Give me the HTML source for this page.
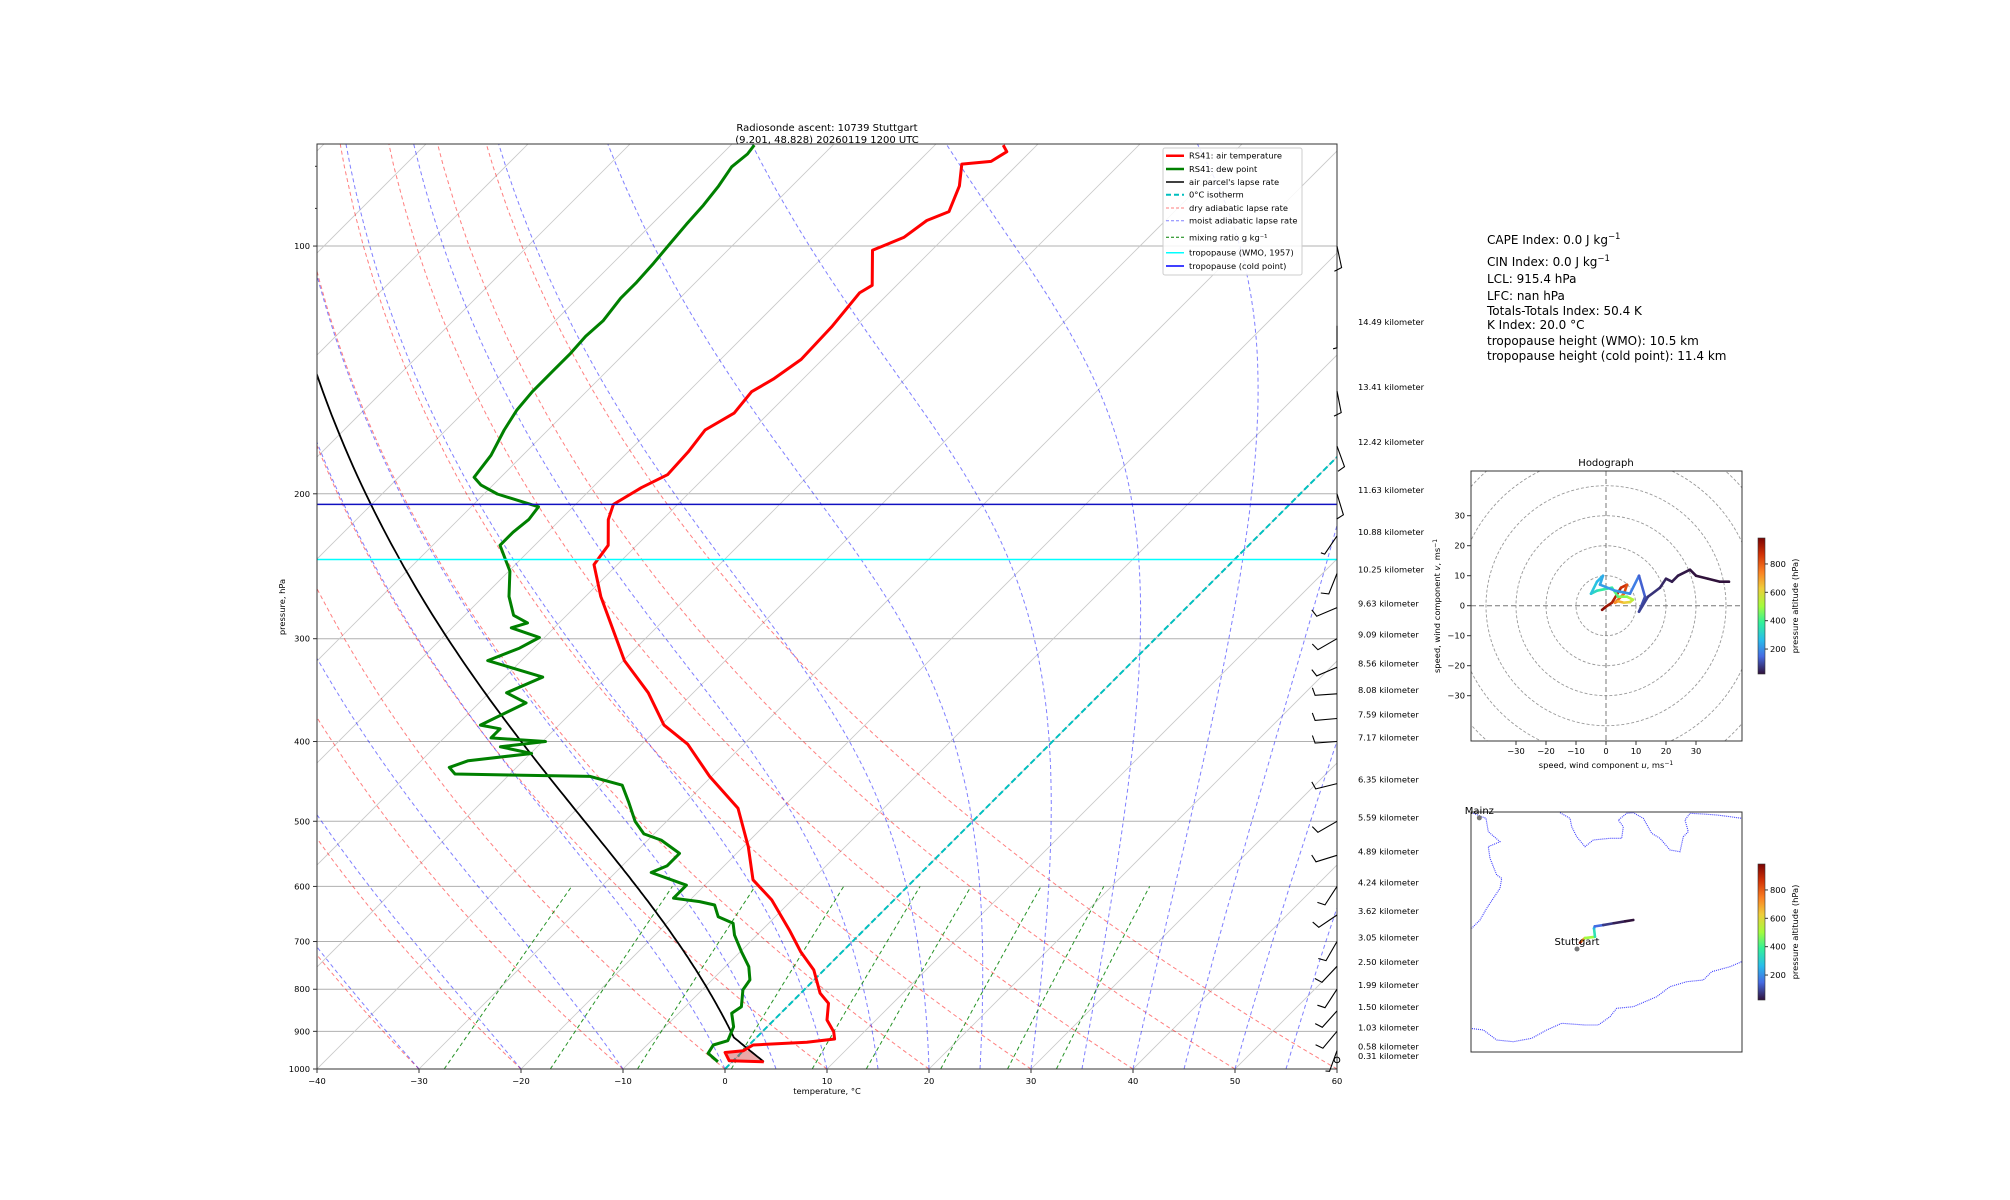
<!DOCTYPE html>
<html><head><meta charset="utf-8"><style>
html,body{margin:0;padding:0;background:#fff;}
svg{display:block;font-family:"DejaVu Sans","Liberation Sans",sans-serif;}
</style></head><body>
<svg id="fig" width="2010" height="1200" viewBox="0 0 2010 1200" xmlns="http://www.w3.org/2000/svg">
<defs>
<clipPath id="skewclip"><rect x="317" y="144" width="1020" height="925"/></clipPath>
<clipPath id="hodoclip"><rect x="1471" y="471" width="271" height="270"/></clipPath>
<clipPath id="mapclip"><rect x="1471" y="812" width="271" height="240"/></clipPath>
<linearGradient id="turbo" x1="0" y1="1" x2="0" y2="0">
<stop offset="0" stop-color="#30123b"/><stop offset="0.13" stop-color="#466be3"/><stop offset="0.25" stop-color="#28bceb"/><stop offset="0.38" stop-color="#32f198"/><stop offset="0.5" stop-color="#a4fc3c"/><stop offset="0.63" stop-color="#efcd3a"/><stop offset="0.75" stop-color="#fb8022"/><stop offset="0.88" stop-color="#d13105"/><stop offset="1" stop-color="#7a0403"/>
</linearGradient>
</defs>
<g id="skew">
<text x="827" y="131" font-size="10" text-anchor="middle">Radiosonde ascent: 10739 Stuttgart</text>
<text x="827" y="144" dy="-1" font-size="10" text-anchor="middle">(9.201, 48.828) 20260119 1200 UTC</text>
<g id="skewlines" clip-path="url(#skewclip)"></g>
<rect x="317" y="144" width="1020" height="925" fill="none" stroke="#333" stroke-width="1"/>
<g id="skewaxes"></g>
<text x="827" y="1094" font-size="8.33" text-anchor="middle">temperature, °C</text>
<text transform="translate(285,607) rotate(-90)" font-size="8.33" text-anchor="middle">pressure, hPa</text>
<g id="legend"></g>
<g id="barbs"></g>
</g>
<g id="stats" font-size="12">
<text x="1487" y="244">CAPE Index: 0.0 J kg<tspan dy="-5" font-size="8.5">−1</tspan></text>
<text x="1487" y="266">CIN Index: 0.0 J kg<tspan dy="-5" font-size="8.5">−1</tspan></text>
<text x="1487" y="283">LCL: 915.4 hPa</text>
<text x="1487" y="300">LFC: nan hPa</text>
<text x="1487" y="315">Totals-Totals Index: 50.4 K</text>
<text x="1487" y="329">K Index: 20.0 °C</text>
<text x="1487" y="345">tropopause height (WMO): 10.5 km</text>
<text x="1487" y="360">tropopause height (cold point): 11.4 km</text>
</g>
<g id="hodo">
<text x="1606" y="466" font-size="10" text-anchor="middle">Hodograph</text>
<g id="hodolines" clip-path="url(#hodoclip)"></g>
<rect x="1471" y="471" width="271" height="270" fill="none" stroke="#333"/>
<g id="hodoaxes" font-size="8.33"></g>
<text x="1606" y="768" font-size="8.33" text-anchor="middle">speed, wind component <tspan font-style="italic">u</tspan>, ms<tspan dy="-3" font-size="6">−1</tspan></text>
<text transform="translate(1440,606) rotate(-90)" font-size="8.33" text-anchor="middle">speed, wind component <tspan font-style="italic">v</tspan>, ms<tspan dy="-3" font-size="6">−1</tspan></text>
<rect x="1758" y="538" width="7" height="136" fill="url(#turbo)" stroke="#333" stroke-width="0.6"/>
<g id="cb1"></g>
</g>
<g id="map">
<g id="maplines" clip-path="url(#mapclip)"></g>
<rect x="1471" y="812" width="271" height="240" fill="none" stroke="#333"/>
<g id="maplabels"></g>
<rect x="1758" y="864" width="7" height="136" fill="url(#turbo)" stroke="#333" stroke-width="0.6"/>
<g id="cb2"></g>
</g>
</svg>
<script>
// ---------- data ----------
const tempP = [980,977,955,950,935,928,919.5,901,872,832,809,758,720,678,623,589,537,482,441,403,382,349,319,266.6,243.8,231,215,206,196.6,189.6,177.9,167.3,159.6,150.3,145.1,137.3,125.4,114,111.6,101.2,97.6,93.1,90.8,84.5,79.5,78.9,76.8,75.4];
const tempT = [3.1,-0.4,-1.6,0.0,0.4,5.4,7.8,7.0,5.2,3.7,1.9,-1.0,-4.1,-7.3,-12,-15.8,-19.5,-24.3,-30.2,-35.5,-39.7,-44.4,-49.9,-58.5,-62.3,-62.8,-65.3,-66.3,-65.2,-63.9,-64.1,-64.6,-63.4,-63.8,-62.9,-62.1,-62.3,-62.9,-62.4,-65.8,-64,-63.4,-62.1,-63.6,-65.5,-62.9,-62.3,-63.3];
const dewP = [980,957,935,924,888.6,855.7,840,801.4,779.3,751,720,687.5,665,653,632,626,620,598,577,566.5,547,527,518,500,474,452,441,438,430,422,413.6,406,400,396,386,382,359,349,334,319,308,299,291,287,281,266.6,248.3,231,222.7,215,207.4,200.1,195.1,191,179.6,167.3,158.4,150.3,142.3,135,128.7,123.3,115.7,110.7,104.9,99.4,94.1,89.2,84.5,80.1,77.3,75.4];
const dewT = [-1.4,-3.2,-3.5,-2.5,-3.3,-4.8,-4.5,-6,-6.3,-7.7,-9.9,-12.2,-13.5,-15.6,-17.1,-18.9,-21.8,-21.8,-26.5,-25.6,-25.6,-28.7,-31,-33.1,-35.6,-37.9,-41.9,-55.4,-56.6,-55.4,-49.9,-53.6,-49.7,-55.4,-55.4,-57.7,-55.4,-58.3,-56.3,-63.3,-61.4,-60.5,-64.2,-63.1,-65.2,-67.5,-69.9,-73.4,-73.4,-73.1,-73.4,-78.7,-81.2,-82.6,-83.1,-84.3,-85,-85.3,-85.3,-85.3,-85.5,-85.3,-85.8,-85.8,-86,-86.3,-86.6,-86.8,-87.2,-87.8,-87.5,-87.7];
const parcelSurfP = 980;
const parcelSurfT = 3.1;
const lclP = 915.4;
const tropWmoP = 240.4;
const tropColdP = 206.0;
const dryT0 = [-60,-50,-40,-30,-20,-10,0,10,20,30,40,50,60];
const moistT0 = [-40,-30,-20,-10,0,5,10,15,20,25,30,35,40,45,50,55,60];
const mixRatios = [0.4,1,2,4,7,10,16,24,32];
const pTicks = [100,200,300,400,500,600,700,800,900,1000];
const tTicks = [-40,-30,-20,-10,0,10,20,30,40,50,60];
const barbP = [100,125,150,175,200,225,250,275,300,325,350,375,400,450,500,550,600,650,700,750,800,850,900,950];
const barbDir = [168,180,169,160,163,214,202,247,240,247,266,265,266,256,240,253,213,236,210,223,213,222,220,200];
const barbSpd = [10,5,10,10,10,5,10,10,10,10,10,10,10,10,10,10,10,10,10,10,10,10,10,0];
const calmP = 975;
const altP = [125,150,175,200,225,250,275,300,325,350,375,400,450,500,550,600,650,700,750,800,850,900,950,975];
const altKm = ["14.49","13.41","12.42","11.63","10.88","10.25","9.63","9.09","8.56","8.08","7.59","7.17","6.35","5.59","4.89","4.24","3.62","3.05","2.50","1.99","1.50","1.03","0.58","0.31"];
const hodoP = [980,950,920,900,850,800,750,700,650,600,550,500,450,400,350,300,270,250,230,210,200,150,120,100,80,60,50,40,35,30,25,22,20,18];
const hodoU = [-1.3,0,2,5,7,6,3,4,6,8,9,7,4,2,-3,-5,-3,-1,-2,3,8,11,13,11,14,18,20,22,24,28,30,34,38,41];
const hodoV = [-1.4,-0.3,1,6,7,4,1,1.5,1,1.2,2,3,3,6,5,4,8,10,7,5,4,10,3,-2,3,6,9,8,10,12,10,9,8,8];
const hodoTicks = [-30,-20,-10,0,10,20,30];
const cbTicks = [200,400,600,800];
const trajP = [980,800,600,400,300,200,100,60,30,20];
const trajLon = [9.23,9.25,9.277,9.372,9.363,9.37,9.451,9.55,9.66,9.737];
const trajLat = [48.884,48.905,48.926,48.937,49.012,49.03,49.042,49.058,49.075,49.087];
const stations = ["Stuttgart","Mainz"];
const stationLon = [9.201,8.271];
const stationLat = [48.828,49.999];

// ---------- helpers ----------
const NS="http://www.w3.org/2000/svg";
function mk(tag,attrs,parent){const e=document.createElementNS(NS,tag);for(const k in attrs)e.setAttribute(k,attrs[k]);parent.appendChild(e);return e;}
const Y0=1069, YS=357.4, X0=317, XS=10.2;
function yP(p){return Y0-YS*Math.log(1000/p);}
function xT(T,p){return X0+(T+40)*XS+(Y0-yP(p));}
function pts(Ps,Ts){return Ps.map((p,i)=>xT(Ts[i],p).toFixed(1)+","+yP(p).toFixed(1)).join(" ");}
function pRange(pb,pt,step){const a=[];for(let p=pb;p>=pt;p-=step)a.push(p);if(a[a.length-1]!==pt)a.push(pt);return a;}
function moistPath(T0C,pStart){let T=T0C+273.15;const Ps=[pStart],Ts=[T0C];
 function f(p,T){const es=6.112*Math.exp(17.67*(T-273.15)/(T-29.65));const rs=0.622*es/(p-es);return (287.04*T+2.501e6*rs)/(1005.7+2.501e6*2.501e6*rs*0.622/(287.04*T*T))/p;}
 let p=pStart;const h=-5;
 while(p>72){const k1=f(p,T),k2=f(p+h/2,T+h/2*k1),k3=f(p+h/2,T+h/2*k2),k4=f(p+h,T+h*k3);T+=h/6*(k1+2*k2+2*k3+k4);p+=h;Ps.push(p);Ts.push(T-273.15);}
 return [Ps,Ts];}
const turboStops=[[0,48,18,59],[0.13,70,107,227],[0.25,40,188,235],[0.38,50,241,152],[0.5,164,252,60],[0.63,239,205,58],[0.75,251,128,34],[0.88,209,49,5],[1,122,4,3]];
function turbo(v){v=Math.max(0,Math.min(1,v));for(let i=1;i<turboStops.length;i++){const a=turboStops[i-1],b=turboStops[i];if(v<=b[0]){const t=(v-a[0])/(b[0]-a[0]);return "rgb("+[1,2,3].map(j=>Math.round(a[j]+t*(b[j]-a[j]))).join(",")+")";}}return "rgb(122,4,3)";}
const PMIN=24,PMAX=983;
function pNorm(p){return (p-PMIN)/(PMAX-PMIN);}

// ---------- skew-T ----------
const L=document.getElementById('skewlines');
pTicks.forEach(p=>{const e=mk('line',{x1:317,x2:1337,y1:yP(p),y2:yP(p),stroke:'#b0b0b0','stroke-width':1},L);
 
 });
for(let T=-130;T<=60;T+=10){const e=mk('line',{x1:xT(T,1000),y1:yP(1000),x2:xT(T,70),y2:yP(70),stroke:'#c8c8c8','stroke-width':0.8},L);
 
 }
const pr=pRange(1000,72,10);
dryT0.forEach(t0=>{const th=t0+273.15;const Ts=pr.map(p=>th*Math.pow(p/1000,0.2857)-273.15);
 const e=mk('polyline',{points:pts(pr,Ts),fill:'none',stroke:'#ff0000','stroke-opacity':0.5,'stroke-width':1,'stroke-dasharray':'4,3'},L);
 
 });
moistT0.forEach(t0=>{const [Ps,Ts]=moistPath(t0,1000);
 const e=mk('polyline',{points:pts(Ps,Ts),fill:'none',stroke:'#0000ff','stroke-opacity':0.5,'stroke-width':1,'stroke-dasharray':'4,3'},L);
 
 });
const pm=pRange(1000,600,10);
mixRatios.forEach(w=>{const Ts=pm.map(p=>{const e=w*p/(622+w);const g=Math.log(e/6.112);return 243.5*g/(17.67-g);});
 const e=mk('polyline',{points:pts(pm,Ts),fill:'none',stroke:'#008000','stroke-opacity':0.85,'stroke-width':1,'stroke-dasharray':'4,3'},L);
 
 });
{const e=mk('line',{x1:xT(0,1000),y1:yP(1000),x2:xT(0,70),y2:yP(70),stroke:'#00bfbf','stroke-width':2,'stroke-dasharray':'6,3'},L);
 
 }
const lclT=(parcelSurfT+273.15)*Math.pow(lclP/parcelSurfP,0.2857)-273.15;
const pDry=pRange(parcelSurfP,lclP,5);const tDry=pDry.map(p=>(parcelSurfT+273.15)*Math.pow(p/parcelSurfP,0.2857)-273.15);
const [pMo,tMo]=moistPath(lclT,lclP);
{const envIdx=tempP.map((p,i)=>i).filter(i=>tempP[i]>=950);
 const poly=envIdx.map(i=>xT(tempT[i],tempP[i])+","+yP(tempP[i]));
 const back=[];for(let p=950;p<=parcelSurfP;p+=5){back.push(xT((parcelSurfT+273.15)*Math.pow(p/parcelSurfP,0.2857)-273.15,p)+","+yP(p));}
 const e=mk('polygon',{points:poly.concat(back).join(" "),fill:'#d04040','fill-opacity':0.45,stroke:'none'},L);
 
 }
{const e=mk('polyline',{points:pts(pDry.concat(pMo),tDry.concat(tMo)),fill:'none',stroke:'#000','stroke-width':1.8},L);
 
 }
{const e=mk('polyline',{points:pts(tempP,tempT),fill:'none',stroke:'#ff0000','stroke-width':3,'stroke-linejoin':'round'},L);
 
 }
{const e=mk('polyline',{points:pts(dewP,dewT),fill:'none',stroke:'#008000','stroke-width':3,'stroke-linejoin':'round'},L);
 
 }
{const e=mk('line',{x1:317,x2:1337,y1:yP(tropWmoP),y2:yP(tropWmoP),stroke:'#00ffff','stroke-width':1.5},L);
 
 }
{const e=mk('line',{x1:317,x2:1337,y1:yP(tropColdP),y2:yP(tropColdP),stroke:'#1010c0','stroke-width':1.5},L);
 
 }
const A=document.getElementById('skewaxes');
pTicks.forEach(p=>{mk('line',{x1:313,x2:317,y1:yP(p),y2:yP(p),stroke:'#333'},A);
 const t=mk('text',{x:310,y:yP(p)+3,'font-size':8.33,'text-anchor':'end'},A);t.textContent=p;
 
 });
[80,90].forEach(p=>{mk('line',{x1:315,x2:317,y1:yP(p),y2:yP(p),stroke:'#333'},A);});
tTicks.forEach(T=>{const x=X0+(T+40)*XS;mk('line',{x1:x,x2:x,y1:1069,y2:1073,stroke:'#333'},A);
 const t=mk('text',{x:x,y:1084,'font-size':8.33,'text-anchor':'middle'},A);t.textContent=(T<0?'−':'')+Math.abs(T);
 
 });
const LG=document.getElementById('legend');
mk('rect',{x:1163,y:148,width:139,height:127,fill:'#fff','fill-opacity':0.85,stroke:'#ccc',rx:2},LG);
const legItems=[["RS41: air temperature","#ff0000",2.5,""],["RS41: dew point","#008000",2.5,""],["air parcel's lapse rate","#000",1.5,""],["0°C isotherm","#00bfbf",2,"5,3"],["dry adiabatic lapse rate","rgba(255,0,0,0.5)",1,"3,2"],["moist adiabatic lapse rate","rgba(0,0,255,0.5)",1,"3,2"],["mixing ratio g kg⁻¹","#008000",1,"3,2"],["tropopause (WMO, 1957)","#00ffff",1.5,""],["tropopause (cold point)","#0000ff",1.5,""]];
const legY=[155.7,169,182,194.7,208,220.7,237.3,252.7,266];
legItems.forEach((it,i)=>{const g=mk('g',{},LG);
 
 
 mk('line',{x1:1166,x2:1184,y1:legY[i],y2:legY[i],stroke:it[1],'stroke-width':it[2],'stroke-dasharray':it[3]||'none'},g);
 const t=mk('text',{x:1189,y:legY[i]+3,'font-size':8.33},g);t.textContent=it[0];});
const B=document.getElementById('barbs');
barbP.forEach((p,i)=>{const y0=yP(p);const s=barbSpd[i];
 const a=barbDir[i]*Math.PI/180;const dx=Math.sin(a)*22,dy=-Math.cos(a)*22;
 const ex=1337+dx,ey=y0+dy;const ang=Math.atan2(dy,dx)+75*Math.PI/180;const bl=s>=10?8:4;
 const e=mk('polyline',{points:`1337,${y0.toFixed(1)} ${ex.toFixed(1)},${ey.toFixed(1)} ${(ex+Math.cos(ang)*bl).toFixed(1)},${(ey+Math.sin(ang)*bl).toFixed(1)}`,fill:'none',stroke:'#000','stroke-width':1.1},B);
 
 });
{const e=mk('circle',{cx:1337,cy:yP(calmP),r:2.8,fill:'none',stroke:'#000','stroke-width':1},B);
 
 }
altP.forEach((p,i)=>{const t=mk('text',{x:1358,y:yP(p)-1,'font-size':8.33},B);t.textContent=altKm[i]+" kilometer";
 
 });

// ---------- hodograph ----------
const HX=1606,HY=605.7,HS=3;
function hx(u){return HX+u*HS;}function hy(v){return HY-v*HS;}
const HL=document.getElementById('hodolines');
[10,20,30,40,50,60].forEach(r=>{const e=mk('circle',{cx:HX,cy:HY,r:r*HS,fill:'none',stroke:'#999','stroke-width':0.9,'stroke-dasharray':'3,2'},HL);
 
 });
mk('line',{x1:1471,x2:1742,y1:HY,y2:HY,stroke:'#777','stroke-width':1,'stroke-dasharray':'5,3'},HL);
mk('line',{x1:HX,x2:HX,y1:471,y2:741,stroke:'#777','stroke-width':1,'stroke-dasharray':'5,3'},HL);
for(let i=1;i<hodoP.length;i++){const e=mk('line',{x1:hx(hodoU[i-1]),y1:hy(hodoV[i-1]),x2:hx(hodoU[i]),y2:hy(hodoV[i]),stroke:turbo(pNorm((hodoP[i]+hodoP[i-1])/2)),'stroke-width':2.6,'stroke-linecap':'round'},HL);
 
 }
const HA=document.getElementById('hodoaxes');
hodoTicks.forEach(v=>{mk('line',{x1:hx(v),x2:hx(v),y1:741,y2:745,stroke:'#333'},HA);
 const t=mk('text',{x:hx(v),y:754,'text-anchor':'middle'},HA);t.textContent=(v<0?'−':'')+Math.abs(v);
 
 
 mk('line',{x1:1467,x2:1471,y1:hy(v),y2:hy(v),stroke:'#333'},HA);
 const t2=mk('text',{x:1465,y:hy(v)+3,'text-anchor':'end'},HA);t2.textContent=(v<0?'−':'')+Math.abs(v);
 
 });
function colorbarTicks(gid,top){const g=document.getElementById(gid);
 cbTicks.forEach(v=>{const y=top+136*(PMAX-v)/(PMAX-PMIN);mk('line',{x1:1765,x2:1768,y1:y,y2:y,stroke:'#333'},g);
  const t=mk('text',{x:1770,y:y+3,'font-size':8.33},g);t.textContent=v;
  
  });
 const t=mk('text',{transform:`translate(1798,${top+68}) rotate(-90)`,'font-size':8.33,'text-anchor':'middle'},g);t.textContent='pressure altitude (hPa)';
 
 }
colorbarTicks('cb1',538);colorbarTicks('cb2',864);

// ---------- map ----------
function mx(lon){return 1577+(lon-9.201)*105;}function my(lat){return 949-(lat-48.828)*112;}
const ML=document.getElementById('maplines');
function z(arr){return arr.map(p=>(1470+p[0]/3).toFixed(1)+","+(800+p[1]/3).toFixed(1)).join(" ");}
const borders=[
 [[10,40],[48,55],[55,95],[90,125],[55,140],[60,175],[80,225],[95,235],[90,265],[70,295],[50,325],[30,360],[5,385]],
 [[270,38],[300,55],[305,80],[320,110],[345,140],[370,120],[420,115],[455,115],[460,80],[445,60],[470,40],[490,38],[520,55],[545,100],[570,115],[600,150],[630,155],[640,110],[655,95],[645,60],[660,40],[700,42],[740,45],[780,50],[815,55]],
 [[0,685],[40,690],[80,720],[130,725],[185,715],[230,690],[275,670],[345,675],[385,675],[420,650],[440,625],[490,620],[560,590],[600,560],[650,545],[700,540],[725,515],[780,500],[815,485]]];
borders.forEach(b=>{const e=mk('polyline',{points:z(b),fill:'none',stroke:'#3a3aff','stroke-width':1.1,'stroke-dasharray':'1,1'},ML);
 
 });
for(let i=1;i<trajP.length;i++){const e=mk('line',{x1:mx(trajLon[i-1]),y1:my(trajLat[i-1]),x2:mx(trajLon[i]),y2:my(trajLat[i]),stroke:turbo(pNorm((trajP[i]+trajP[i-1])/2)),'stroke-width':2.6,'stroke-linecap':'round'},ML);
 
 }
const MLB=document.getElementById('maplabels');
stations.forEach((s,i)=>{const x=mx(stationLon[i]),y=my(stationLat[i]);
 const c=mk('circle',{cx:x,cy:y,r:2.5,fill:'#777'},MLB);
 
 
 const t=mk('text',{x:x,y:y-4,'font-size':10,'text-anchor':'middle'},MLB);t.textContent=s;
 
 });
</script>
</body></html>
